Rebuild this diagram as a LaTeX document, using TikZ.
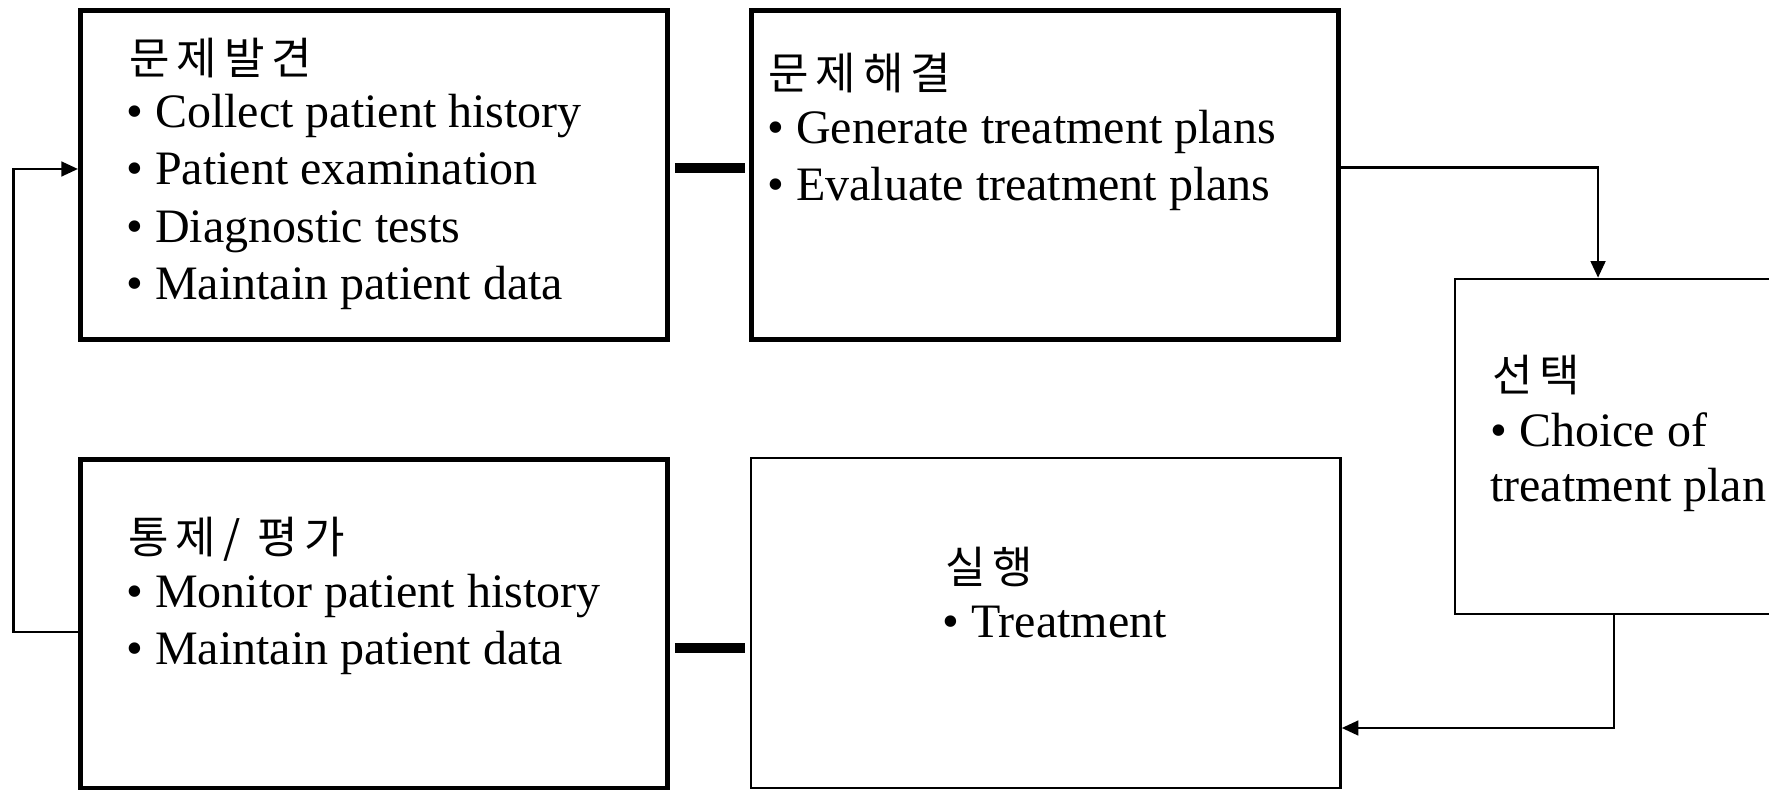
\documentclass[tikz,border=0pt]{standalone}
\usepackage{fontspec}
\setmainfont{Liberation Serif}
\newfontfamily\kr[LetterSpace=16]{Noto Sans CJK KR}
\usetikzlibrary{arrows.meta}

\tikzset{
  heavybox/.style={draw=black, line width=3.75pt, fill=none, inner sep=0pt},
  lightbox/.style={draw=black, line width=1.9pt, fill=none, inner sep=0pt},
  bar/.style={draw=black, line width=7.5pt},
  link/.style={draw=black, line width=2pt, -{Triangle[length=12.5pt,width=11pt]}},
  en/.style={anchor=base west, inner sep=0pt, font=\fontsize{36}{43}\selectfont},
  ko/.style={anchor=base west, inner sep=0pt, font=\kr\fontsize{33}{40}\selectfont},
}

\begin{document}
\begin{tikzpicture}[x=0.75pt, y=-0.75pt]
\useasboundingbox (0,0) rectangle (1769,789);
\clip (0,0) rectangle (1769,789);
\fill[white] (0,0) rectangle (1769,789);

% stage boxes
\node[heavybox, minimum width=439.9pt, minimum height=247.1pt] (find) at (373.75,175.25) {};
\node[heavybox, minimum width=440.6pt, minimum height=247.1pt] (solve) at (1044.75,175.25) {};
\node[lightbox, minimum width=258.75pt, minimum height=251.25pt] (choose) at (1627.5,446.5) {};
\node[heavybox, minimum width=439.9pt, minimum height=247.1pt] (control) at (373.75,623.75) {};
\node[lightbox, minimum width=442.1pt, minimum height=247.5pt] (act) at (1045.75,623) {};

% box texts
\node[ko] (findT) at (129,74) {문제발견};
\node[en] (find1) at (126,127) {• Collect patient history};
\node[en] (find2) at (126,184.5) {• Patient examination};
\node[en] (find3) at (126,242) {• Diagnostic tests};
\node[en] (find4) at (126,299.5) {• Maintain patient data};

\node[ko] (solveT) at (768,89) {문제해결};
\node[en] (solve1) at (767,143) {• Generate treatment plans};
\node[en] (solve2) at (767,200.5) {• Evaluate treatment plans};

\node[ko] (chooseT) at (1492,391) {선택};
\node[en] (choose1) at (1490,446) {• Choice of};
\node[en] (choose2) at (1490,501) {treatment plan};

\node[ko] (controlT) at (128,553) {통제/ 평가};
\node[en] (control1) at (126,607) {• Monitor patient history};
\node[en] (control2) at (126,664.5) {• Maintain patient data};

\node[ko] (actT) at (945,583) {실행};
\node[en] (act1) at (942,637) {• Treatment};

% connection points
\coordinate (abbar) at ([yshift=5.66pt]find.east);
\coordinate (debar) at ([yshift=-18.4pt]control.east);
\coordinate (cin) at ([xshift=-22.1pt]choose.north);
\coordinate (cout) at ([xshift=-10.1pt]choose.south);
\coordinate (ein) at ([yshift=-78.75pt]act.east);
\coordinate (dout) at ([yshift=-6.2pt]control.west);
\coordinate (ain) at ([yshift=4.7pt]find.west);
\coordinate (loopx) at (13.3,400);

% heavy joining bars
\draw[bar, shorten <=4.1pt, shorten >=2.6pt] (abbar) -- (abbar -| solve.west);
\draw[bar, shorten <=4.1pt, shorten >=3.5pt] (debar) -- (debar -| act.west);

% flow arrows
\draw[link] (abbar -| solve.east) -| (cin);
\draw[link] (cout) |- (ein);
\draw[link] (dout) -- (dout -| loopx) -- (ain -| loopx) -- (ain);
\end{tikzpicture}
\end{document}
